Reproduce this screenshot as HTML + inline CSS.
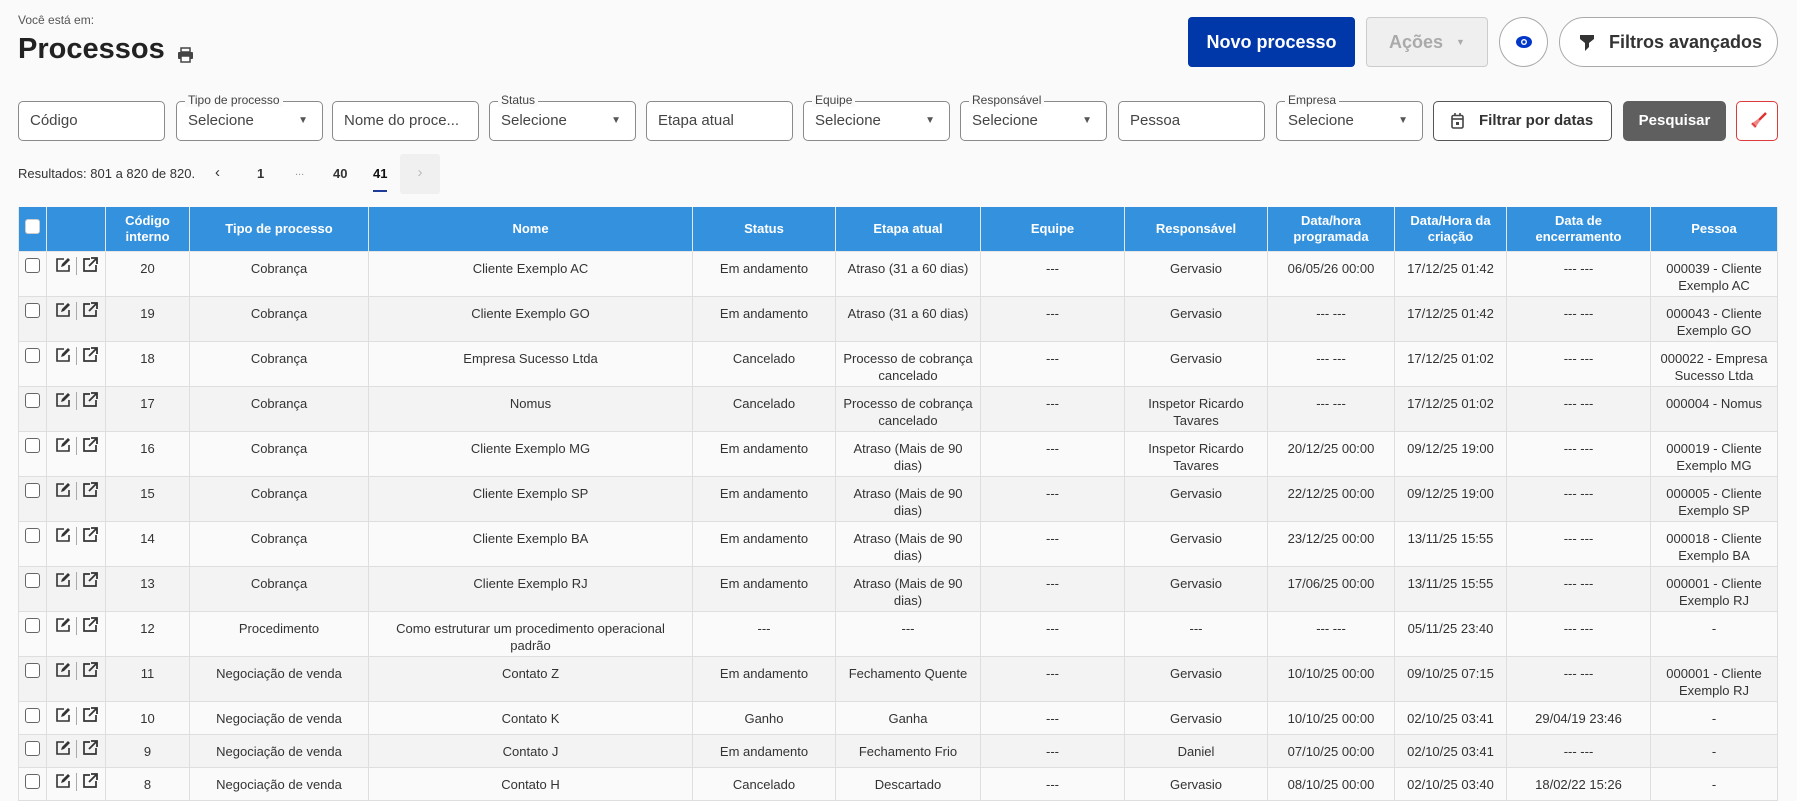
<!DOCTYPE html>
<html><head><meta charset="utf-8"><style>
*{box-sizing:border-box;margin:0;padding:0}
body{width:1797px;height:800px;overflow:hidden;background:#fafafa;font-family:"Liberation Sans",sans-serif;color:#333;position:relative}
.a{position:absolute}
.inp{position:absolute;top:101px;height:40px;width:147px;border:1px solid #8a8a8a;border-radius:5px;background:#fff;font-size:15px;color:#444;padding-left:11px;line-height:38px;white-space:nowrap}
.inp .lb{position:absolute;top:-9px;left:8px;font-size:12px;line-height:14px;background:#fafafa;padding:0 3px;color:#444}
.inp .ar{position:absolute;right:14px;top:0;font-size:10px;color:#555}
table{position:absolute;left:18px;top:207px;border-collapse:collapse;table-layout:fixed;font-size:13px}
th{background:#3391de;color:#fff;font-weight:bold;height:44px;border:1px solid #e6e6e6;border-top:none;line-height:16px;text-align:center;vertical-align:middle}
td{border:1px solid #dedede;text-align:center;vertical-align:top;padding-top:8px;line-height:17px;white-space:nowrap;color:#333}
tr.t td{height:45px}
tr.s td{height:33px}
tr:nth-child(odd) td{background:#fafafa}
tr:nth-child(even) td{background:#f3f3f3}
.cb{display:inline-block;width:15px;height:15px;border:1.5px solid #666;border-radius:3px;background:#fff;margin-top:0}
.ic{display:flex;align-items:flex-start;justify-content:center;gap:5px;padding-top:0}
</style></head><body>
<div class="a" style="left:18px;top:13px;font-size:12px;color:#555">Você está em:</div>
<div class="a" style="left:18px;top:33px;font-size:29px;font-weight:bold;color:#222">Processos</div>
<svg class="a" style="left:177px;top:47px" width="17" height="16" viewBox="0 0 17 16"><rect x="4" y="1" width="9" height="4" fill="none" stroke="#444" stroke-width="1.5"/><rect x="1" y="5" width="15" height="7" rx="1" fill="#444"/><rect x="4" y="9" width="9" height="6" fill="#fff" stroke="#444" stroke-width="1.5"/></svg>

<div class="a" style="left:1188px;top:17px;width:167px;height:50px;background:#0037a9;border-radius:4px;color:#fff;font-weight:bold;font-size:18px;line-height:50px;text-align:center">Novo processo</div>
<div class="a" style="left:1366px;top:17px;width:122px;height:50px;background:#efefef;border:1px solid #ccc;border-radius:4px;color:#aaa;font-weight:bold;font-size:18px;line-height:48px;text-align:center">Ações <span style="font-size:9px;vertical-align:3px;margin-left:8px">▼</span></div>
<div class="a" style="left:1499px;top:17px;width:49px;height:50px;border:1px solid #aaa;border-radius:50%;background:#fff"><svg style="position:absolute;left:15px;top:17px" width="18" height="14" viewBox="0 0 18 14"><ellipse cx="9" cy="7" rx="8" ry="6" fill="#0037c9"/><circle cx="9" cy="7" r="3" fill="#fff"/><circle cx="9" cy="7" r="1.6" fill="#0037c9"/></svg></div>
<div class="a" style="left:1559px;top:17px;width:219px;height:50px;border:1px solid #aaa;border-radius:25px;background:#fff;font-weight:bold;font-size:18px;line-height:48px;color:#333;padding-left:49px"><svg style="position:absolute;left:20px;top:17px" width="14" height="16" viewBox="0 0 14 16"><path d="M0 0H14V4L9 8V12L5 16V8L0 4Z" fill="#333"/></svg>Filtros avançados</div>

<div class="inp" style="left:18px">Código</div>
<div class="inp" style="left:176px"><span class="lb">Tipo de processo</span>Selecione<span class="ar">▼</span></div>
<div class="inp" style="left:332px">Nome do proce...</div>
<div class="inp" style="left:489px"><span class="lb">Status</span>Selecione<span class="ar">▼</span></div>
<div class="inp" style="left:646px">Etapa atual</div>
<div class="inp" style="left:803px"><span class="lb">Equipe</span>Selecione<span class="ar">▼</span></div>
<div class="inp" style="left:960px"><span class="lb">Responsável</span>Selecione<span class="ar">▼</span></div>
<div class="inp" style="left:1118px">Pessoa</div>
<div class="inp" style="left:1276px"><span class="lb">Empresa</span>Selecione<span class="ar">▼</span></div>
<div class="inp" style="left:1433px;width:179px;border-color:#555;font-weight:bold;color:#333;padding-left:45px"><svg style="position:absolute;left:17px;top:11px" width="13" height="16" viewBox="0 0 13 16"><rect x="1" y="2.5" width="11" height="12.5" rx="1.5" fill="none" stroke="#444" stroke-width="1.6"/><line x1="1" y1="6" x2="12" y2="6" stroke="#444" stroke-width="1.6"/><line x1="4" y1="0" x2="4" y2="3" stroke="#444" stroke-width="1.6"/><line x1="9" y1="0" x2="9" y2="3" stroke="#444" stroke-width="1.6"/><rect x="5" y="9" width="3" height="3" fill="#444"/></svg>Filtrar por datas</div>
<div class="inp" style="left:1623px;width:103px;background:#5f5f5f;border-color:#5f5f5f;color:#fff;font-weight:bold;padding-left:0;text-align:center">Pesquisar</div>
<div class="inp" style="left:1736px;width:42px;border-color:#dd3b3b;padding:0"><svg style="position:absolute;left:12px;top:10px" width="18" height="18" viewBox="0 0 18 18"><path d="M17 1L10 8" stroke="#d33" stroke-width="2.5"/><path d="M9 7L11 9L6 16L2 12Z" fill="#e88"/><path d="M3 11L7 15" stroke="#d33" stroke-width="1.5"/></svg></div>

<div class="a" style="left:18px;top:166px;font-size:13px;color:#333">Resultados: 801 a 820 de 820.</div>
<div class="a" style="left:215px;top:164px;font-size:15px;color:#333">‹</div>
<div class="a" style="left:257px;top:166px;font-size:13px;font-weight:bold">1</div>
<div class="a" style="left:295px;top:166px;font-size:11px;color:#999">...</div>
<div class="a" style="left:333px;top:166px;font-size:13px;font-weight:bold">40</div>
<div class="a" style="left:373px;top:166px;font-size:13px;font-weight:bold;color:#111">41</div>
<div class="a" style="left:373px;top:190px;width:14px;height:2px;background:#1f3b99"></div>
<div class="a" style="left:400px;top:154px;width:40px;height:40px;background:#f0f0f0;border-radius:3px;color:#bbb;text-align:center;line-height:38px;font-size:15px">›</div>

<table>
<colgroup><col style="width:28px"><col style="width:59px"><col style="width:84px"><col style="width:179px"><col style="width:324px"><col style="width:143px"><col style="width:145px"><col style="width:144px"><col style="width:143px"><col style="width:127px"><col style="width:112px"><col style="width:144px"><col style="width:127px"></colgroup>
<tr><th><span class="cb" style="border-color:#ccc"></span></th><th></th><th>Código<br>interno</th><th>Tipo de processo</th><th>Nome</th><th>Status</th><th>Etapa atual</th><th>Equipe</th><th>Responsável</th><th>Data/hora<br>programada</th><th>Data/Hora da<br>criação</th><th>Data de<br>encerramento</th><th>Pessoa</th></tr>
</table>
<script>
var rows=[
["20","Cobrança","Cliente Exemplo AC","Em andamento","Atraso (31 a 60 dias)","---","Gervasio","06/05/26 00:00","17/12/25 01:42","--- ---","000039 - Cliente<br>Exemplo AC"],
["19","Cobrança","Cliente Exemplo GO","Em andamento","Atraso (31 a 60 dias)","---","Gervasio","--- ---","17/12/25 01:42","--- ---","000043 - Cliente<br>Exemplo GO"],
["18","Cobrança","Empresa Sucesso Ltda","Cancelado","Processo de cobrança<br>cancelado","---","Gervasio","--- ---","17/12/25 01:02","--- ---","000022 - Empresa<br>Sucesso Ltda"],
["17","Cobrança","Nomus","Cancelado","Processo de cobrança<br>cancelado","---","Inspetor Ricardo<br>Tavares","--- ---","17/12/25 01:02","--- ---","000004 - Nomus"],
["16","Cobrança","Cliente Exemplo MG","Em andamento","Atraso (Mais de 90<br>dias)","---","Inspetor Ricardo<br>Tavares","20/12/25 00:00","09/12/25 19:00","--- ---","000019 - Cliente<br>Exemplo MG"],
["15","Cobrança","Cliente Exemplo SP","Em andamento","Atraso (Mais de 90<br>dias)","---","Gervasio","22/12/25 00:00","09/12/25 19:00","--- ---","000005 - Cliente<br>Exemplo SP"],
["14","Cobrança","Cliente Exemplo BA","Em andamento","Atraso (Mais de 90<br>dias)","---","Gervasio","23/12/25 00:00","13/11/25 15:55","--- ---","000018 - Cliente<br>Exemplo BA"],
["13","Cobrança","Cliente Exemplo RJ","Em andamento","Atraso (Mais de 90<br>dias)","---","Gervasio","17/06/25 00:00","13/11/25 15:55","--- ---","000001 - Cliente<br>Exemplo RJ"],
["12","Procedimento","Como estruturar um procedimento operacional<br>padrão","---","---","---","---","--- ---","05/11/25 23:40","--- ---","-"],
["11","Negociação de venda","Contato Z","Em andamento","Fechamento Quente","---","Gervasio","10/10/25 00:00","09/10/25 07:15","--- ---","000001 - Cliente<br>Exemplo RJ"],
["10","Negociação de venda","Contato K","Ganho","Ganha","---","Gervasio","10/10/25 00:00","02/10/25 03:41","29/04/19 23:46","-"],
["9","Negociação de venda","Contato J","Em andamento","Fechamento Frio","---","Daniel","07/10/25 00:00","02/10/25 03:41","--- ---","-"],
["8","Negociação de venda","Contato H","Cancelado","Descartado","---","Gervasio","08/10/25 00:00","02/10/25 03:40","18/02/22 15:26","-"]];
var ed='<svg width="16" height="16" viewBox="0 0 16 16"><path d="M9 2H2V14H14V8" fill="none" stroke="#333" stroke-width="1.6"/><path d="M6 10L7 7L13 1L15 3L9 9Z" fill="#333"/></svg>';
var ex='<svg width="16" height="16" viewBox="0 0 16 16"><path d="M8 2H2V14H14V8" fill="none" stroke="#333" stroke-width="1.7"/><path d="M7 9L14 2M9 1H15V7" fill="none" stroke="#333" stroke-width="1.8"/></svg>';
var t=document.querySelector('table'),h='';
rows.forEach(function(r,i){h+='<tr class="'+(i<10?'t':'s')+'"><td style="padding-top:6px"><span class="cb"></span></td><td style="padding-top:5px"><div class="ic">'+ed+'<span style="width:1px;height:18px;background:#aaa;display:inline-block"></span>'+ex+'</div></td>';r.forEach(function(c){h+='<td>'+c+'</td>'});h+='</tr>'});
t.insertAdjacentHTML('beforeend',h);
</script>
</body></html>
